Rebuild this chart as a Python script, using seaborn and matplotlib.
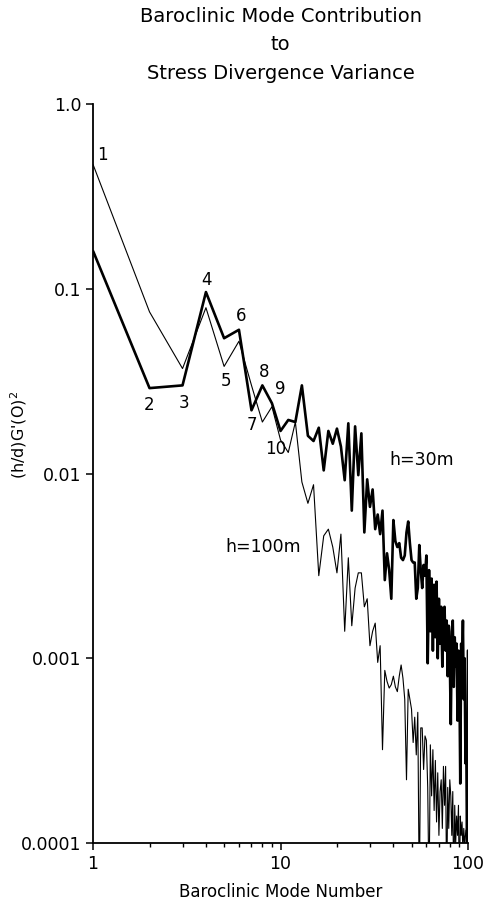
import numpy as np
import pandas as pd
import matplotlib
matplotlib.use("Agg")
import matplotlib.pyplot as plt
import matplotlib.ticker as mtick
import seaborn as sns

# baroclinic mode numbers 1..100
modes = list(range(1, 101))

# h = 30 m (heavy line)
h30 = [0.16, 0.029, 0.030, 0.096, 0.054, 0.060, 0.022, 0.030, 0.024, 0.017,
       0.0195, 0.019, 0.030, 0.016, 0.015, 0.0177, 0.0104, 0.017, 0.0145, 0.0175,
       0.014, 0.0092, 0.0187, 0.0063, 0.018, 0.0098, 0.0165, 0.0048, 0.0093, 0.0066,
       0.0082, 0.0050, 0.0060, 0.0047, 0.0063, 0.00265, 0.0037, 0.0030, 0.0021, 0.0056,
       0.0043, 0.0040, 0.0042, 0.0035, 0.0034, 0.0036, 0.0048, 0.0055, 0.0042, 0.0034,
       0.0033, 0.0033, 0.0021, 0.0024, 0.0041, 0.0030, 0.0024, 0.0032, 0.0028, 0.0036,
       0.00094, 0.0030, 0.0014, 0.0027, 0.0011, 0.0025, 0.0013, 0.0026, 0.0010, 0.0021,
       0.0012, 0.0019, 0.0009, 0.0017, 0.0019, 0.0011, 0.0016, 0.0008, 0.0015, 0.00099,
       0.00044, 0.0014, 0.0016, 0.0007, 0.0013, 0.0009, 0.0012, 0.00046, 0.0011, 0.0008,
       0.00021, 0.0012, 0.0009, 0.0016, 0.0006, 0.0010, 0.00027, 0.00035, 0.00008, 0.0011]

# h = 100 m (thin line)
h100 = [0.47, 0.075, 0.037, 0.079, 0.038, 0.052, 0.030, 0.019, 0.023, 0.0152,
        0.013, 0.019, 0.0090, 0.0069, 0.0087, 0.0028, 0.0046, 0.0050, 0.0040, 0.0029,
        0.0047, 0.0014, 0.0035, 0.0015, 0.0024, 0.0029, 0.0029, 0.0019, 0.0021, 0.00117,
        0.0014, 0.00155, 0.00095, 0.00117, 0.00032, 0.00086, 0.00075, 0.00069, 0.00072, 0.00080,
        0.00070, 0.00066, 0.00080, 0.00092, 0.00078, 0.00060, 0.00022, 0.00068, 0.00060, 0.00053,
        0.00035, 0.00048, 0.00030, 0.00051, 0.00005, 0.00042, 0.00042, 0.00025, 0.00038, 0.00036,
        0.00020, 0.00005, 0.00034, 0.00018, 0.00032, 0.00015, 0.00028, 0.00013, 0.00024, 0.00011,
        0.00019, 0.00022, 0.00012, 0.00026, 0.00016, 0.00026, 0.00005, 0.00020, 0.00012, 0.00022,
        0.00018, 0.00011, 0.00019, 0.00005, 0.00016, 0.00010, 0.00014, 0.00011, 0.00016, 0.00005,
        0.00014, 0.00011, 0.00013, 0.00009, 0.00012, 0.00010, 0.00011, 0.000118, 0.00009, 0.00011]

# which curve each mode-number label sits on
labels_30 = [2, 3, 4, 6, 7, 8, 9]
labels_100 = [1, 5, 10]

y_ticks = [1e-4, 1e-3, 1e-2, 1e-1, 1.0]
y_ticklabels = ["0.0001", "0.001", "0.01", "0.1", "1.0"]
x_ticks = [1, 10, 100]
x_ticklabels = ["1", "10", "100"]

df30 = pd.DataFrame({"mode": modes, "value": h30})
df100 = pd.DataFrame({"mode": modes, "value": h100})

sns.set_style("ticks")
plt.rcParams["font.family"] = ["DejaVu Sans"]
plt.rcParams["text.color"] = "black"
plt.rcParams["axes.labelcolor"] = "black"
plt.rcParams["xtick.color"] = "black"
plt.rcParams["ytick.color"] = "black"

fig = plt.figure(figsize=(4.9, 9), dpi=100)
ax = fig.add_axes([0.190, 0.0633, 0.765, 0.8211])

sns.lineplot(data=df100, x="mode", y="value", color="black", linewidth=0.8, ax=ax)
sns.lineplot(data=df30, x="mode", y="value", color="black", linewidth=1.9, ax=ax)

ax.set_xscale("log")
ax.set_yscale("log")
ax.set_xlim(1, 100)
ax.set_ylim(1e-4, 1)

ax.set_xticks(x_ticks)
ax.set_xticklabels(x_ticklabels)
ax.xaxis.set_minor_locator(mtick.LogLocator(base=10, subs=np.arange(2, 10)))
ax.xaxis.set_minor_formatter(mtick.NullFormatter())
ax.set_yticks(y_ticks)
ax.set_yticklabels(y_ticklabels)
ax.yaxis.set_minor_locator(mtick.NullLocator())
ax.tick_params(axis="both", which="major", length=5, width=1.1, labelsize=12.5)
ax.tick_params(axis="x", which="minor", length=3, width=1.0)
sns.despine(ax=ax)
for s in ["left", "bottom"]:
    ax.spines[s].set_linewidth(1.3)
    ax.spines[s].set_color("black")

ax.set_xlabel("Baroclinic Mode Number", fontsize=12, labelpad=7)
ax.set_ylabel("(h/d)G'(O)$^2$", fontsize=11.5)
ax.yaxis.set_label_coords(-0.17, 0.552)

ax.set_title("Baroclinic Mode Contribution\nto\nStress Divergence Variance",
             fontsize=14, linespacing=1.65, pad=18)

# mode number labels (offsets in pixels)
offsets = {1: (9, 10), 2: (0, -17), 3: (1, -18), 4: (1, 12), 5: (2, -15),
           6: (2, 14), 7: (0, -15), 8: (2, 13), 9: (8, 14), 10: (-13, 3)}
for n in labels_30:
    ax.annotate(str(n), (n, h30[n - 1]), textcoords="offset pixels",
                xytext=offsets[n], ha="center", va="center", fontsize=12)
for n in labels_100:
    xpos = n + 1 if n == 10 else n
    ax.annotate(str(n), (xpos, h100[xpos - 1]), textcoords="offset pixels",
                xytext=offsets[n], ha="center", va="center", fontsize=12)

ax.text(0.877, 0.518, "h=30m", transform=ax.transAxes, ha="center", va="center", fontsize=12.5)
ax.text(0.453, 0.40, "h=100m", transform=ax.transAxes, ha="center", va="center", fontsize=12.5)

fig.savefig("out.png", dpi=100)
